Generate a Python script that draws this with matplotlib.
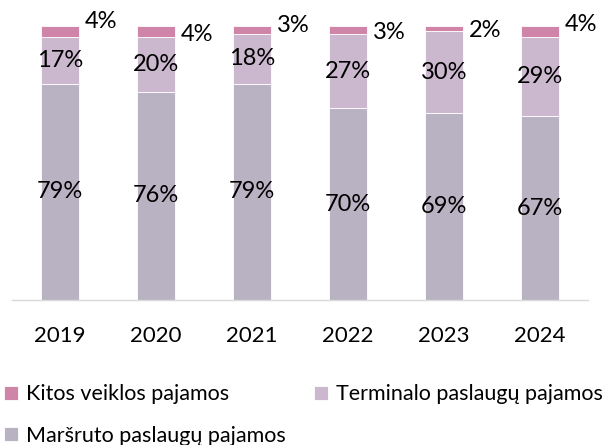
import numpy as np
import matplotlib
matplotlib.use("Agg")
import matplotlib.pyplot as plt

plt.rcParams['font.family'] = ['Lato', 'DejaVu Sans']

years = ['2019', '2020', '2021', '2022', '2023', '2024']
marsruto = [79, 76, 79, 70, 69, 67]
terminalo = [17, 20, 18, 27, 30, 29]
kitos = [4, 4, 3, 3, 2, 4]

# vertical placement of the small "kitos" labels (data units, axis = 0..100)
kitos_label_y = [101.8, 96.9, 100.0, 97.6, 98.5, 100.7]

c_marsruto = '#B9B2C3'
c_terminalo = '#CBB8CE'
c_kitos = '#CF84A8'

fig = plt.figure(figsize=(6.16, 4.45), dpi=100)
ax = fig.add_axes([12 / 616, 1 - 300 / 445, 576 / 616, 274 / 445])

x = np.arange(len(years))
m = np.array(marsruto, dtype=float)
t = np.array(terminalo, dtype=float)
k = np.array(kitos, dtype=float)
tot = m + t + k
mp, tp, kp = m / tot * 100, t / tot * 100, k / tot * 100

w = 0.4
b1 = ax.bar(x, mp, w, color=c_marsruto, edgecolor='white', linewidth=0.6)
b2 = ax.bar(x, tp, w, bottom=mp, color=c_terminalo, edgecolor='white', linewidth=0.6)
b3 = ax.bar(x, kp, w, bottom=mp + tp, color=c_kitos, edgecolor='white', linewidth=0.6)

fs = 17
for i in range(len(years)):
    ax.text(x[i], mp[i] / 2, f'{marsruto[i]}%', ha='center', va='center', fontsize=fs)
    ax.text(x[i], mp[i] + tp[i] / 2, f'{terminalo[i]}%', ha='center', va='center', fontsize=fs)
    ax.text(x[i] + w / 2 + 0.06, kitos_label_y[i], f'{kitos[i]}%', ha='left', va='center',
            fontsize=fs)

ax.set_xlim(-0.5, len(years) - 0.5)
ax.set_ylim(0, 100)
ax.set_xticks(x)
ax.set_xticklabels(years, fontsize=16)
ax.tick_params(axis='x', length=0, pad=19)
ax.set_yticks([])
for s in ['top', 'right', 'left']:
    ax.spines[s].set_visible(False)
ax.spines['bottom'].set_color('#D9D9D9')
ax.spines['bottom'].set_linewidth(1)

fig.legend([b3, b1, b2],
           ['Kitos veiklos pajamos', 'Maršruto paslaugų pajamos', 'Terminalo paslaugų pajamos'],
           ncol=2, loc='upper left', bbox_to_anchor=(0.0, 1 - 380 / 445), frameon=False,
           fontsize=15.5, handlelength=0.65, handleheight=0.65, handletextpad=0.35,
           columnspacing=1.33, labelspacing=1.0, borderaxespad=0.0, borderpad=0.2)

fig.savefig('out.png', dpi=100)
